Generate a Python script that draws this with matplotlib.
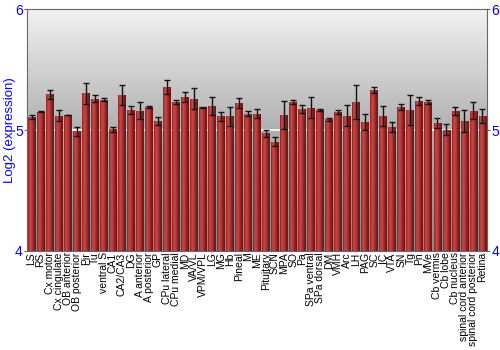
import numpy as np
import matplotlib
matplotlib.use("Agg")
import matplotlib.pyplot as plt
from matplotlib.colors import LinearSegmentedColormap

plt.rcParams['font.family'] = ['Liberation Sans', 'DejaVu Sans']

# regions and log2 expression
regions = ['LS', 'RS', 'Cx motor', 'Cx cingulate', 'OB anterior', 'OB posterior', 'Pir', 'Tu',
           'ventral S', 'CA1', 'CA2/CA3', 'DG', 'A anterior', 'A posterior', 'GP', 'CPu lateral',
           'CPu medial', 'MD', 'VA/VL', 'VPM/VPL', 'LG', 'MG', 'Hb', 'Pineal', 'M', 'ME',
           'Pituitary', 'SCN', 'MPA', 'SO', 'Pa', 'SPa ventral', 'SPa dorsal', 'DM', 'VMH', 'Arc',
           'LH', 'PAG', 'SC', 'IC', 'VTA', 'SN', 'Tg', 'Pn', 'MVe', 'Cb vermis', 'Cb lobe',
           'Cb nucleus', 'spinal cord anterior', 'spinal cord posterior', 'Retina']
expr = [5.107, 5.150, 5.295, 5.120, 5.124, 4.990, 5.306, 5.260, 5.250, 5.005, 5.290, 5.168,
        5.160, 5.187, 5.072, 5.358, 5.231, 5.273, 5.260, 5.187, 5.200, 5.113, 5.113, 5.223,
        5.135, 5.135, 4.972, 4.904, 5.127, 5.234, 5.174, 5.185, 5.165, 5.088, 5.150, 5.120,
        5.231, 5.063, 5.333, 5.113, 5.025, 5.190, 5.163, 5.240, 5.231, 5.058, 5.003, 5.157,
        5.074, 5.160, 5.113]
err = [0.014, 0.005, 0.037, 0.045, 0.003, 0.037, 0.087, 0.026, 0.012, 0.022, 0.083, 0.034,
       0.069, 0.008, 0.033, 0.058, 0.018, 0.045, 0.084, 0.003, 0.074, 0.040, 0.078, 0.041,
       0.020, 0.038, 0.030, 0.037, 0.116, 0.018, 0.032, 0.085, 0.010, 0.010, 0.018, 0.090,
       0.142, 0.066, 0.024, 0.083, 0.041, 0.022, 0.123, 0.032, 0.015, 0.039, 0.045, 0.030,
       0.090, 0.068, 0.058]

fig = plt.figure(figsize=(5, 3.5), dpi=100)
ax = fig.add_axes([0.054, 0.283, 0.92, 0.691])

x = np.arange(len(regions))
ymin, ymax = 4, 6

# gray vertical gradient background
bg = LinearSegmentedColormap.from_list('bg', ['#8a8a8a', '#b0b0b0', '#f2f2f2'])
grad = np.linspace(0, 1, 256).reshape(-1, 1)
ax.imshow(grad, extent=[-0.5, len(regions) - 0.5, ymin, ymax], origin='lower',
          aspect='auto', cmap=bg, zorder=0)
ax.axhline(5, color='white', lw=1.2, zorder=1)

bars = ax.bar(x, np.array(expr) - ymin, bottom=ymin, width=0.86, color='#b03434',
              edgecolor='none', zorder=2)

# horizontal shading inside each bar
shade = LinearSegmentedColormap.from_list('shade', ['#8c2222', '#c84a4a', '#b53a3a', '#8a2020', '#6a1212'])
hgrad = np.linspace(0, 1, 64).reshape(1, -1)
for b in bars:
    im = ax.imshow(hgrad, extent=[b.get_x(), b.get_x() + b.get_width(), ymin, b.get_y() + b.get_height()],
                   aspect='auto', cmap=shade, zorder=3)
    im.set_clip_path(b)

ax.errorbar(x, expr, yerr=err, fmt='none', ecolor='#111111', elinewidth=1,
            capsize=2, capthick=1, zorder=4)

ax.set_xlim(-0.5, len(regions) - 0.5)
ax.set_ylim(ymin, ymax)
ax.set_yticks([4, 5, 6])
ax.tick_params(axis='y', colors='#666666', labelcolor='blue', labelsize=10,
               left=True, right=True, labelleft=True, labelright=True, length=2, pad=1)
ax.set_xticks(x)
ax.set_xticklabels(regions, rotation=90, fontsize=7.5)
ax.tick_params(axis='x', length=0, pad=1)
ax.set_ylabel('Log2 (expression)', color='blue', fontsize=9.5)
ax.yaxis.set_label_coords(-0.024, 0.5)
for s in ax.spines.values():
    s.set_color('#666666')

fig.savefig('out.png', dpi=100)
